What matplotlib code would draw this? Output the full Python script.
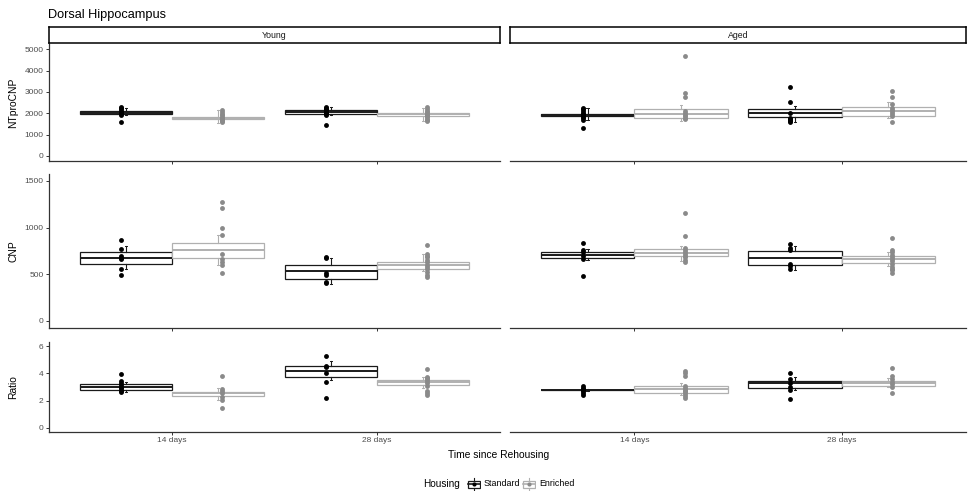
import matplotlib
matplotlib.use("Agg")
import matplotlib.pyplot as plt
from matplotlib.patches import Rectangle

plt.rcParams['font.family'] = ['Liberation Sans', 'DejaVu Sans']

W, H = 970, 493

AGES = ["Young", "Aged"]
TIMES = ["14 days", "28 days"]
HOUSING = ["Standard", "Enriched"]
MEASURES = ["NTproCNP", "CNP", "Ratio"]

# box stats per time point: [whisker low, q1, median, q3, whisker high]
# NTproCNP
ntpro_young_std_box = [[1920, 1950, 2010, 2110, 2240], [1900, 1970, 2080, 2150, 2280]]
ntpro_young_enr_box = [[1560, 1740, 1790, 1850, 2170], [1640, 1890, 1950, 2030, 2260]]
ntpro_aged_std_box = [[1700, 1880, 1940, 1990, 2250], [1580, 1840, 2010, 2190, 2340]]
ntpro_aged_enr_box = [[1650, 1780, 1970, 2190, 2400], [1790, 1890, 2125, 2310, 2515]]
ntpro_young_std_pts = [[2280, 2230, 2180, 2120, 2060, 2000, 1950, 1920, 1580],
                       [2300, 2250, 2200, 2150, 2100, 2050, 2000, 1950, 1900, 1450]]
ntpro_young_enr_pts = [[2150, 2060, 1980, 1900, 1840, 1790, 1750, 1700, 1640, 1580],
                       [2280, 2200, 2120, 2050, 1980, 1930, 1880, 1820, 1750, 1680, 1620]]
ntpro_aged_std_pts = [[2260, 2180, 2100, 2020, 1960, 1900, 1850, 1790, 1700, 1330],
                      [3220, 2550, 2010, 1790, 1730, 1680, 1630, 1590]]
ntpro_aged_enr_pts = [[4700, 2970, 2750, 2100, 2000, 1930, 1870, 1800, 1720],
                      [3045, 2780, 2440, 2250, 2150, 2050, 1950, 1880, 1610]]

# CNP
cnp_young_std_box = [[550, 606, 678, 735, 800], [398, 452, 535, 603, 675]]
cnp_young_enr_box = [[603, 671, 757, 837, 919], [531, 560, 600, 628, 711]]
cnp_aged_std_box = [[657, 675, 707, 740, 765], [549, 600, 678, 746, 800]]
cnp_aged_enr_box = [[638, 692, 729, 765, 800], [585, 621, 660, 700, 740]]
cnp_young_std_pts = [[865, 775, 690, 675, 665, 560, 495],
                     [682, 670, 510, 492, 420, 406]]
cnp_young_enr_pts = [[1278, 1206, 994, 919, 711, 665, 630, 595, 517],
                     [818, 720, 700, 680, 655, 625, 600, 575, 550, 525, 495, 466]]
cnp_aged_std_pts = [[836, 757, 740, 700, 664, 485],
                    [826, 785, 757, 614, 585, 560]]
cnp_aged_enr_pts = [[1152, 908, 785, 760, 740, 720, 700, 680, 655, 630],
                    [883, 757, 735, 710, 685, 660, 640, 610, 580, 560, 540, 514]]

# Ratio
ratio_young_std_box = [[2.65, 2.77, 2.99, 3.21, 3.38], [3.5, 3.72, 4.14, 4.51, 4.9]]
ratio_young_enr_box = [[2.03, 2.35, 2.53, 2.65, 2.9], [2.9, 3.14, 3.33, 3.5, 3.75]]
ratio_aged_std_box = [[2.7, 2.74, 2.76, 2.79, 2.85], [2.77, 2.94, 3.26, 3.45, 3.7]]
ratio_aged_enr_box = [[2.4, 2.57, 2.84, 3.09, 3.3], [2.97, 3.09, 3.26, 3.41, 3.63]]
ratio_young_std_pts = [[3.95, 3.4, 3.3, 3.15, 3.0, 2.9, 2.8, 2.7, 2.6],
                       [5.24, 4.55, 4.45, 4.02, 3.36, 2.2]]
ratio_young_enr_pts = [[3.8, 2.85, 2.7, 2.55, 2.25, 2.05, 1.47],
                       [4.34, 3.75, 3.65, 3.55, 3.4, 3.25, 3.1, 2.7, 2.55, 2.4]]
ratio_aged_std_pts = [[3.1, 2.95, 2.85, 2.77, 2.7, 2.55, 2.4],
                      [4.0, 3.56, 3.3, 3.0, 2.77, 2.13]]
ratio_aged_enr_pts = [[4.2, 4.0, 3.8, 3.05, 2.9, 2.8, 2.7, 2.6, 2.45, 2.3, 2.15],
                      [4.41, 3.8, 3.55, 3.35, 3.2, 3.0, 2.57]]

y_limits = [(-250, 5250), (-75, 1575), (-0.3, 6.3)]
y_ticks = [[0, 1000, 2000, 3000, 4000, 5000], [0, 500, 1000, 1500], [0, 2, 4, 6]]

panels = {
    (0, 0): (ntpro_young_std_box, ntpro_young_std_pts, ntpro_young_enr_box, ntpro_young_enr_pts),
    (0, 1): (ntpro_aged_std_box, ntpro_aged_std_pts, ntpro_aged_enr_box, ntpro_aged_enr_pts),
    (1, 0): (cnp_young_std_box, cnp_young_std_pts, cnp_young_enr_box, cnp_young_enr_pts),
    (1, 1): (cnp_aged_std_box, cnp_aged_std_pts, cnp_aged_enr_box, cnp_aged_enr_pts),
    (2, 0): (ratio_young_std_box, ratio_young_std_pts, ratio_young_enr_box, ratio_young_enr_pts),
    (2, 1): (ratio_aged_std_box, ratio_aged_std_pts, ratio_aged_enr_box, ratio_aged_enr_pts),
}

BOX_COL = ["#1a1a1a", "#b0b0b0"]
PT_COL = ["#000000", "#8a8a8a"]
BOX_OFF = [-0.225, 0.225]
PT_OFF = [-0.25, 0.245]
AX_COL = "#333333"
TXT_COL = "#4d4d4d"

rows_px = [(44, 161.3), (174, 327.7), (342, 431.8)]
cols_px = [(49, 500), (510, 966)]


def px_axes(fig, x0, y0, x1, y1):
    return fig.add_axes([x0 / W, 1 - y1 / H, (x1 - x0) / W, (y1 - y0) / H])


fig = plt.figure(figsize=(W / 100, H / 100), dpi=100)

for (r, c), (sb, sp, eb, ep) in panels.items():
    ax = px_axes(fig, cols_px[c][0], rows_px[r][0], cols_px[c][1], rows_px[r][1])
    for h, (boxes, pts) in enumerate([(sb, sp), (eb, ep)]):
        stats = [dict(whislo=b[0], q1=b[1], med=b[2], q3=b[3], whishi=b[4]) for b in boxes]
        pos = [t + 1 + BOX_OFF[h] for t in range(len(TIMES))]
        ax.bxp(stats, positions=pos, widths=0.45, capwidths=0.012, showfliers=False,
               patch_artist=True, manage_ticks=False,
               boxprops=dict(facecolor="white", edgecolor=BOX_COL[h], linewidth=0.9),
               medianprops=dict(color=BOX_COL[h], linewidth=1.4),
               whiskerprops=dict(color=BOX_COL[h], linewidth=0.8),
               capprops=dict(color=BOX_COL[h], linewidth=0.7))
        for t, p in enumerate(pts):
            ax.plot([t + 1 + PT_OFF[h]] * len(p), p, "o", ms=3.5, color=PT_COL[h],
                    mec="none", zorder=5)
    ax.set_xlim(0.4, 2.6)
    ax.set_ylim(*y_limits[r])
    ax.set_xticks([1, 2])
    ax.set_xticklabels(TIMES if r == 2 else [])
    ax.set_yticks(y_ticks[r])
    for s in ["top", "right"]:
        ax.spines[s].set_visible(False)
    ax.spines["bottom"].set_color(AX_COL)
    ax.spines["bottom"].set_linewidth(0.9)
    ax.spines["left"].set_color(AX_COL)
    ax.spines["left"].set_linewidth(0.9)
    ax.tick_params(length=2.5, width=0.7, color=AX_COL, labelcolor=TXT_COL,
                   labelsize=6, pad=1.5)
    if c == 1:
        ax.spines["left"].set_visible(False)
        ax.tick_params(left=False, labelleft=False)

# facet strips on top row
for c, age in enumerate(AGES):
    sax = px_axes(fig, cols_px[c][0], 27, cols_px[c][1], 43)
    sax.set_xticks([])
    sax.set_yticks([])
    for s in sax.spines.values():
        s.set_color("black")
        s.set_linewidth(1.1)
    sax.text(0.5, 0.5, age, ha="center", va="center", fontsize=6.3, color="#1a1a1a",
             transform=sax.transAxes)

# titles
fig.text(48 / W, 1 - 15 / H, "Dorsal Hippocampus", fontsize=9.2, ha="left", va="center")
for r, m in enumerate(MEASURES):
    yc = (rows_px[r][0] + rows_px[r][1]) / 2
    fig.text(13.5 / W, 1 - yc / H, m, rotation=90, ha="center", va="center", fontsize=7.4)
fig.text(499 / W, 1 - 455 / H, "Time since Rehousing", ha="center", va="center", fontsize=7.4)

# legend
fig.text(423 / W, 1 - 484 / H, "Housing", ha="left", va="center", fontsize=7.2)
key_x = [467, 522]
lab_x = [484, 539]
for h, lab in enumerate(HOUSING):
    kax = px_axes(fig, key_x[h], 477, key_x[h] + 14, 491)
    kax.set_xlim(0, 1)
    kax.set_ylim(0, 1)
    kax.axis("off")
    kax.plot([0.5, 0.5], [0.05, 0.25], color=BOX_COL[h], lw=0.8)
    kax.plot([0.5, 0.5], [0.75, 0.95], color=BOX_COL[h], lw=0.8)
    kax.add_patch(Rectangle((0.1, 0.25), 0.8, 0.5, facecolor="white",
                            edgecolor=BOX_COL[h], lw=0.9))
    kax.plot([0.1, 0.9], [0.5, 0.5], color=BOX_COL[h], lw=1.2)
    kax.plot([0.5], [0.5], "o", ms=3.0, color=PT_COL[h], mec="none")
    fig.text(lab_x[h] / W, 1 - 484 / H, lab, ha="left", va="center", fontsize=6.4)

fig.savefig("out.png", dpi=100)
